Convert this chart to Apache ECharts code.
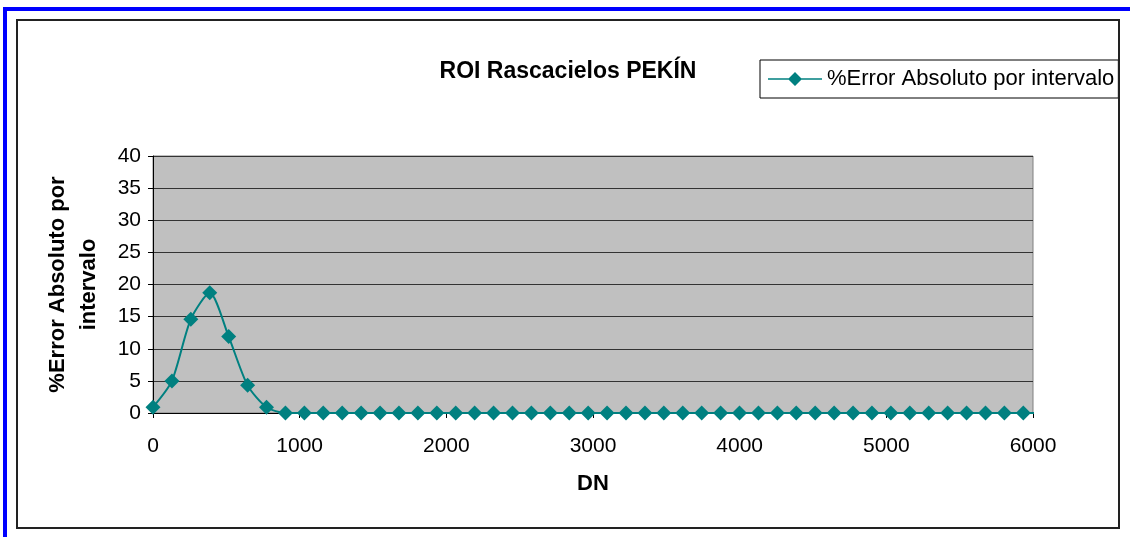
<!DOCTYPE html>
<html>
<head>
<meta charset="utf-8">
<script src="https://cdn.jsdelivr.net/npm/echarts@6/dist/echarts.min.js"></script>
<style>
  html, body { margin: 0; padding: 0; background: #fff; }
  #chart { width: 1130px; height: 537px; }
</style>
</head>
<body>
<div id="chart"></div>
<script>
// DN interval centres
const dn = [0, 129, 258, 387, 516, 645, 774, 903, 1032, 1161, 1290, 1419, 1548, 1677, 1806, 1935,
    2064, 2193, 2322, 2451, 2580, 2709, 2838, 2967, 3096, 3225, 3354, 3483, 3612, 3741, 3870, 3999,
    4128, 4257, 4386, 4515, 4644, 4773, 4902, 5031, 5160, 5289, 5418, 5547, 5676, 5805, 5934, 6063];
// % absolute error per interval
const errorPct = [0.9, 5.0, 14.6, 18.7, 11.9, 4.3, 0.9, 0, 0, 0, 0, 0, 0, 0, 0, 0,
    0, 0, 0, 0, 0, 0, 0, 0, 0, 0, 0, 0, 0, 0, 0, 0,
    0, 0, 0, 0, 0, 0, 0, 0, 0, 0, 0, 0, 0, 0, 0, 0];
const xTicks = [0, 1000, 2000, 3000, 4000, 5000, 6000];
const yTicks = [0, 5, 10, 15, 20, 25, 30, 35, 40];

const chart = echarts.init(document.getElementById('chart'));
const font = 'Liberation Sans, Arial, sans-serif';
const teal = '#008080';

const seriesData = dn.map((x, i) => {
    // last point lies past the axis end: line only, no marker
    if (x > xTicks[xTicks.length - 1]) return { value: [x, errorPct[i]], symbol: 'none' };
    return [x, errorPct[i]];
});

const option = {
    animation: false,
    backgroundColor: '#fff',
    textStyle: { fontFamily: font },
    graphic: [
        { type: 'rect', shape: { x: 3, y: 7, width: 1127, height: 4 }, style: { fill: '#0000ff' }, z: 100 },
        { type: 'rect', shape: { x: 3, y: 7, width: 4, height: 530 }, style: { fill: '#0000ff' }, z: 100 },
        { type: 'rect', shape: { x: 17, y: 20, width: 1102, height: 508 },
          style: { fill: 'none', stroke: '#222', lineWidth: 2 }, z: 100 }
    ],
    title: {
        text: 'ROI Rascacielos PEKÍN',
        left: 563,
        top: 55,
        textAlign: 'center',
        textStyle: { fontFamily: font, fontSize: 23, fontWeight: 'bold', color: '#000' }
    },
    legend: {
        left: 760,
        top: 60,
        itemWidth: 54,
        itemHeight: 14,
        itemGap: 6,
        padding: [8, 4, 8, 8],
        borderColor: '#000',
        borderWidth: 1,
        backgroundColor: '#fff',
        textStyle: { fontFamily: font, fontSize: 22, color: '#000' },
        data: [{
            name: '%Error Absoluto por intervalo',
            icon: 'path://M0,6.2H54V7.8H0Z M20,7L27,0L34,7L27,14Z'
        }]
    },
    grid: {
        left: 153,
        right: 97,
        top: 156,
        bottom: 124,
        show: true,
        backgroundColor: '#c0c0c0',
        borderColor: '#808080',
        borderWidth: 1
    },
    xAxis: {
        type: 'value',
        min: 0,
        max: 6000,
        interval: 1000,
        name: 'DN',
        nameLocation: 'middle',
        nameGap: 60,
        nameTextStyle: { fontFamily: font, fontSize: 22, fontWeight: 'bold', color: '#000' },
        axisLine: { show: true, onZero: false, lineStyle: { color: '#000', width: 1 } },
        axisTick: { show: true, inside: false, length: 5, lineStyle: { color: '#000' } },
        axisLabel: { fontFamily: font, fontSize: 21, color: '#000', margin: 23, formatter: v => String(v) },
        splitLine: { show: false }
    },
    yAxis: {
        type: 'value',
        min: 0,
        max: 40,
        interval: 5,
        name: '%Error Absoluto por\nintervalo',
        nameLocation: 'middle',
        nameGap: 49,
        nameRotate: 90,
        nameTextStyle: { fontFamily: font, fontSize: 22, fontWeight: 'bold', color: '#000', lineHeight: 31 },
        axisLine: { show: true, lineStyle: { color: '#000', width: 1 } },
        axisTick: { show: true, length: 5, lineStyle: { color: '#000' } },
        axisLabel: { fontFamily: font, fontSize: 21, color: '#000', margin: 12, formatter: v => String(v) },
        splitLine: { show: true, lineStyle: { color: '#333', width: 1.2 } }
    },
    series: [
        {
            name: '%Error Absoluto por intervalo',
            type: 'line',
            smooth: 0.25,
            clip: false,
            symbol: 'diamond',
            symbolSize: 15,
            data: seriesData,
            itemStyle: { color: teal },
            lineStyle: { color: teal, width: 2 }
        }
    ]
};

chart.setOption(option);
</script>
</body>
</html>
